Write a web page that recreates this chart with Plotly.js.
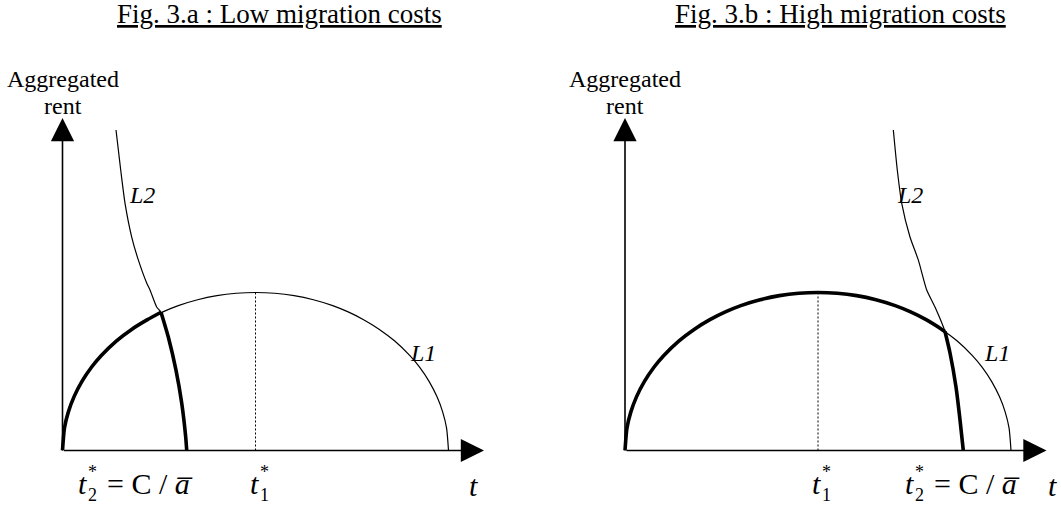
<!DOCTYPE html>
<html>
<head>
<meta charset="utf-8">
<script src="https://cdn.plot.ly/plotly-3.0.1.min.js"></script>
<style>html,body{margin:0;padding:0;background:#fff;}#chart{width:1061px;height:507px;}</style>
</head>
<body>
<div id="chart"></div>
<script>
// ---- data ----
// L1 : aggregated rent curve (same in both panels)
const L1_t = [0, 0.05, 0.15, 0.3, 0.5, 0.75, 1.0, 1.4, 1.8, 2.2, 2.6, 3.0, 3.5, 4.0, 4.5, 5.0, 5.5, 6.0, 6.5, 7.0, 7.4, 7.8, 8.2, 8.6, 9.0, 9.25, 9.5, 9.7, 9.85, 9.95, 10];
const L1_r = [0, 0.141, 0.243, 0.341, 0.436, 0.527, 0.600, 0.694, 0.768, 0.828, 0.877, 0.917, 0.954, 0.980, 0.995, 1.0, 0.995, 0.980, 0.954, 0.917, 0.877, 0.828, 0.768, 0.694, 0.600, 0.527, 0.436, 0.341, 0.243, 0.141, 0];
// L2 : low migration costs (panel a)
const L2a_t = [1.386, 1.508, 1.619, 1.793, 1.964, 2.181, 2.267, 2.440, 2.552, 2.741, 2.940, 3.088, 3.192, 3.218];
const L2a_r = [2.028, 1.775, 1.566, 1.351, 1.206, 1.060, 1.016, 0.908, 0.875, 0.718, 0.509, 0.301, 0.085, 0];
// L2 : high migration costs (panel b)
const L2b_t = [6.951, 7.054, 7.168, 7.383, 7.598, 7.816, 8.031, 8.290, 8.420, 8.575, 8.679, 8.764];
const L2b_r = [2.028, 1.775, 1.566, 1.351, 1.206, 1.016, 0.908, 0.753, 0.617, 0.402, 0.193, 0];
// intersections t2* of L1 and L2
const crossA = [2.552, 0.875];
const crossB = [8.290, 0.753];
// t1* (top of L1)
const t1Star = [5, 1.0];
// axis arrow tips
const axisTipT = 10.92;
const axisTipR = 2.104;
// texts
const panelTitles = ['Fig. 3.a : Low migration costs', 'Fig. 3.b : High migration costs'];

const FONT = 'Liberation Serif, Times New Roman, serif';
const thin = 1.2, thick = 3.6;

function thickL1(cross){
  const x=[],y=[];
  for(let i=0;i<L1_t.length;i++){ if(L1_t[i]<cross[0]){x.push(L1_t[i]);y.push(L1_r[i]);} }
  x.push(cross[0]); y.push(cross[1]);
  return [x,y];
}
function thickL2(tt,rr,cross){
  const x=[cross[0]],y=[cross[1]];
  for(let i=0;i<tt.length;i++){ if(tt[i]>cross[0]){x.push(tt[i]);y.push(rr[i]);} }
  return [x,y];
}

function panelTraces(xa,ya,l2t,l2r,cross){
  const base={type:'scatter',mode:'lines',xaxis:xa,yaxis:ya,hoverinfo:'skip',showlegend:false};
  const tl1=thickL1(cross), tl2=thickL2(l2t,l2r,cross);
  return [
    Object.assign({},base,{x:[t1Star[0],t1Star[0]],y:[0,t1Star[1]],line:{color:'#000',width:1,dash:'2px,2px'}}),
    Object.assign({},base,{x:L1_t,y:L1_r,line:{color:'#000',width:thin,shape:'spline',smoothing:0.6}}),
    Object.assign({},base,{x:l2t,y:l2r,line:{color:'#000',width:thin,shape:'spline',smoothing:0.6}}),
    Object.assign({},base,{x:tl1[0],y:tl1[1],line:{color:'#000',width:thick,shape:'spline',smoothing:0.6}}),
    Object.assign({},base,{x:tl2[0],y:tl2[1],line:{color:'#000',width:thick,shape:'spline',smoothing:0.6}})
  ];
}

const traces = [].concat(
  panelTraces('x','y',L2a_t,L2a_r,crossA),
  panelTraces('x2','y2',L2b_t,L2b_r,crossB)
);

function txt(xref,yref,x,y,text,size,extra){
  return Object.assign({xref:xref,yref:yref,x:x,y:y,text:text,showarrow:false,borderpad:0,
    font:{family:FONT,size:size,color:'#000'},xanchor:'center',yanchor:'middle'},extra||{});
}
function arrow(xref,yref,x,y){
  return {xref:xref,yref:yref,axref:xref,ayref:yref,x:x,y:y,ax:0,ay:0,text:'',
    showarrow:true,arrowhead:2,arrowsize:2.9,arrowwidth:1.6,arrowcolor:'#000',standoff:0,startstandoff:0};
}

function panelAnn(xr,yr,o){
  return [
    arrow(xr,yr,axisTipT,0), arrow(xr,yr,0,axisTipR),
    txt(xr,yr,0,2.35,'Aggregated',24),
    txt(xr,yr,0,2.18,'rent',24),
    txt(xr,yr,o.l2[0],o.l2[1],'<i>L2</i>',24),
    txt(xr,yr,o.l1[0],o.l1[1],'<i>L1</i>',24),
    // t2* = C / a-bar
    txt(xr,yr,o.t2[0],-0.206,'<i>t</i>',30),
    txt(xr,yr,o.t2[1],-0.212,'*<br>2',18),
    txt(xr,yr,o.t2[2],-0.206,'= C / <i>a\u0305</i>',30),
    // t1*
    txt(xr,yr,o.t1[0],-0.206,'<i>t</i>',30),
    txt(xr,yr,o.t1[1],-0.212,'*<br>1',18),
    // axis name
    txt(xr,yr,o.t,-0.22,'<i>t</i>',30)
  ];
}

const annotations = [
  txt('paper','paper',0.2639,0.972,'<u>'+panelTitles[0]+'</u>',27),
  txt('paper','paper',0.7926,0.972,'<u>'+panelTitles[1]+'</u>',27)
].concat(
  panelAnn('x','y',{l2:[2.05,1.62],l1:[9.35,0.62],t2:[0.531,0.78,2.26],t1:[4.961,5.225],t:10.66}),
  panelAnn('x2','y2',{l2:[7.38,1.62],l1:[9.63,0.62],t2:[7.383,7.632,9.11],t1:[4.948,5.212],t:11.08})
);

const hidden = {visible:false,fixedrange:true};
const layout = {
  width:1061,height:507,
  margin:{l:0,r:0,t:0,b:0,pad:0},
  paper_bgcolor:'#fff',plot_bgcolor:'#fff',
  showlegend:false,
  font:{family:FONT,color:'#000'},
  xaxis:Object.assign({domain:[0,0.5],range:[-1.619,12.124],anchor:'y'},hidden),
  yaxis:Object.assign({domain:[0,1],range:[-0.3576,2.851],anchor:'x'},hidden),
  xaxis2:Object.assign({domain:[0.5,1],range:[-2.448,11.295],anchor:'y2'},hidden),
  yaxis2:Object.assign({domain:[0,1],range:[-0.3576,2.851],anchor:'x2'},hidden),
  annotations:annotations
};

Plotly.newPlot('chart',traces,layout,{staticPlot:true,displayModeBar:false});
</script>
</body>
</html>
